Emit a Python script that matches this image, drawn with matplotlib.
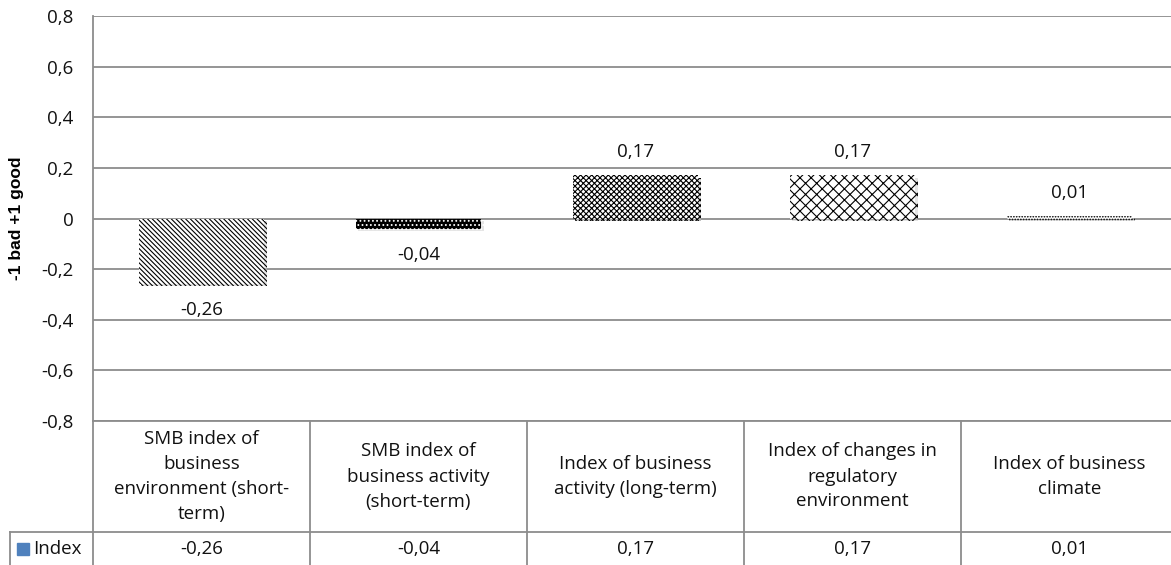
import numpy as np
import matplotlib.pyplot as plt
from matplotlib import patheffects

# data
categories = ['SMB index of\nbusiness\nenvironment (short-\nterm)',
              'SMB index of\nbusiness activity\n(short-term)',
              'Index of business\nactivity (long-term)',
              'Index of changes in\nregulatory\nenvironment',
              'Index of business\nclimate']
values = [-0.26, -0.04, 0.17, 0.17, 0.01]
series_name = 'Index'
yticks = [-0.8, -0.6, -0.4, -0.2, 0, 0.2, 0.4, 0.6, 0.8]
hatches = ['\\\\\\\\\\\\\\', '....', 'xxxxxx', 'xxx', '......']


def fmt(v):
    if v == 0:
        return '0'
    return ('%g' % round(v, 2)).replace('.', ',')


plt.rcParams['font.family'] = ['Open Sans', 'DejaVu Sans']
plt.rcParams['hatch.linewidth'] = 0.8

FS = 13.5
TXT = '#111111'
W, H = 1171, 565
fig = plt.figure(figsize=(W / 100, H / 100), dpi=100)
col_w = 217
left, top, bottom = 93, 16, 421
ax = fig.add_axes([left / W, (H - bottom) / H, 5 * col_w / W, (bottom - top) / H])

x = np.arange(len(values))
grid_c = '#8c8c8c'
for i, (v, h) in enumerate(zip(values, hatches)):
    fc = 'black' if i == 1 else 'white'
    ec = 'white' if i == 1 else 'black'
    b = ax.bar(x[i], v, width=0.58, color=fc, hatch=h, edgecolor=ec, linewidth=0, zorder=3)
    for p in b:
        p.set_path_effects([patheffects.SimplePatchShadow(offset=(1.5, -1.5), shadow_rgbFace='#cccccc', alpha=0.5),
                            patheffects.Normal()])
    off = 23 if v > 0 else -26
    ax.annotate(fmt(v), (x[i], v), xytext=(0, off), textcoords='offset pixels',
                ha='center', va='center', fontsize=FS, color=TXT)

ax.set_xlim(-0.5, 4.5)
ax.set_ylim(-0.8, 0.8)
ax.set_yticks(yticks)
ax.set_yticklabels([fmt(t) for t in yticks], fontsize=FS, color=TXT)
ax.tick_params(axis='y', length=0, pad=14)
ax.set_xticks([])
ax.yaxis.grid(True, color=grid_c, linewidth=1.3, zorder=0)
for s in ['top', 'right', 'bottom']:
    ax.spines[s].set_visible(False)
ax.spines['left'].set_color(grid_c)
ax.spines['left'].set_linewidth(1.3)
ax.set_ylabel('-1 bad +1 good', fontsize=12.5, fontweight='bold', family='Liberation Sans')
ax.yaxis.set_label_coords((17 - left) / (5 * col_w), 0.5)
ax.yaxis.label.set_va('center')

# data table under the axes
tr = ax.get_xaxis_transform()
ph = bottom - top
y_head = (bottom - 532) / ph
y_bot = (bottom - 565) / ph
y_end = (bottom - 570) / ph
x_leg = -0.5 - (left - 10) / col_w
lk = dict(color=grid_c, linewidth=1.3, clip_on=False, transform=tr)
ax.plot([-0.5, 4.5], [0, 0], **lk)
ax.plot([x_leg, 4.5], [y_head, y_head], **lk)
ax.plot([-0.5, -0.5], [0, y_end], **lk)
ax.plot([x_leg, x_leg], [y_head, y_end], **lk)
for k in range(1, 5):
    ax.plot([k - 0.5, k - 0.5], [0, y_end], **lk)
for i, c in enumerate(categories):
    ax.text(x[i], y_head / 2, c, transform=tr, ha='center', va='center', fontsize=FS,
            linespacing=1.5, color=TXT)
    ax.text(x[i], (y_head + y_bot) / 2 - 0.002, fmt(values[i]), transform=tr,
            ha='center', va='center', fontsize=FS, color=TXT)
ym = (y_head + y_bot) / 2
ax.plot([x_leg + (23 - 10) / col_w], [ym], marker='s', markersize=9, color='#4f81bd', clip_on=False,
        transform=tr, linestyle='none')
ax.text(x_leg + (33 - 10) / col_w, ym - 0.002, series_name, transform=tr, ha='left', va='center',
        fontsize=FS, color=TXT)

fig.savefig('out.png', dpi=100)
